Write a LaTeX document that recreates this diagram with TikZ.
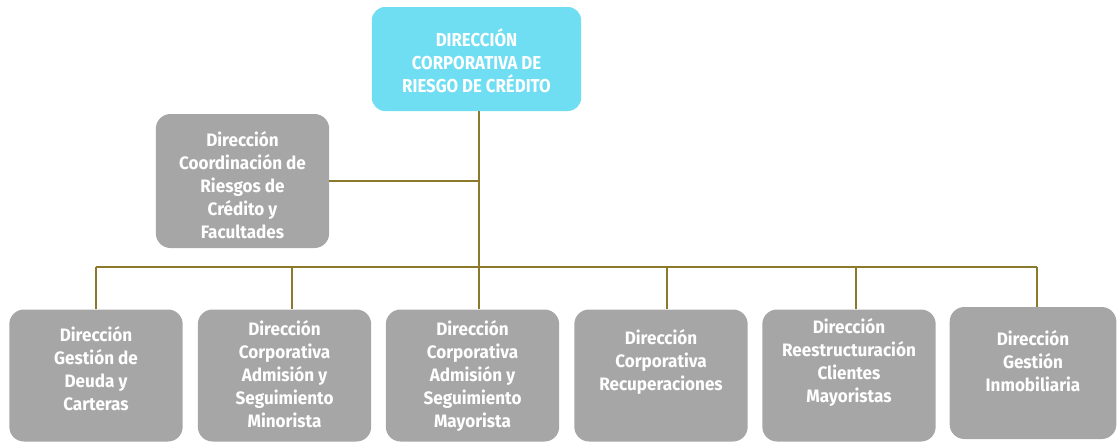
\documentclass[tikz,border=0pt]{standalone}
\usepackage{fontspec}
\setmainfont{Fira Sans}[FakeStretch=0.95]
\usepackage{xcolor}
\usepackage{tikz}
\usetikzlibrary{calc}

\definecolor{headcyan}{HTML}{6FDEF3}
\definecolor{boxgray}{HTML}{A6A6A6}
\definecolor{linkolive}{HTML}{8C7A2C}

\tikzset{
    unit box/.style={fill=boxgray, rounded corners=11pt, minimum width=130pt, minimum height=99pt, inner sep=0pt},
    head box/.style={fill=headcyan, rounded corners=10pt, minimum width=157pt, minimum height=78pt, inner sep=0pt},
    unit text/.style={text=white, align=center, font=\fontsize{13.5}{17.25}\selectfont\bfseries},
    head text/.style={text=white, align=center, font=\addfontfeature{FakeStretch=0.9}\fontsize{14}{17.25}\selectfont\bfseries},
    link/.style={draw=linkolive, line width=1.9pt}
}

\begin{document}
\begin{tikzpicture}[x=0.75pt, y=-0.75pt]
    \useasboundingbox (0, 0) rectangle (1119, 443);

    % cabecera
    \node [head box] (head) at (476.5, 59) {};
    \node [head text] (headt) at ([yshift=-1.5pt]head.center) {DIRECCIÓN\\CORPORATIVA DE\\RIESGO DE CRÉDITO};

    % staff
    \node [unit box, minimum height=100.5pt] (coord) at (242.5, 181) {};
    \node [unit text] (coordt) at ([yshift=-3pt]coord.center) {Dirección\\Coordinación de\\Riesgos de\\Crédito y\\Facultades};

    % direcciones
    \node [unit box] (b1) at (96, 375.5) {};
    \node [unit box] (b2) at (284.5, 375.5) {};
    \node [unit box] (b3) at (472.5, 375.5) {};
    \node [unit box] (b4) at (661, 375.5) {};
    \node [unit box] (b5) at (849, 375.5) {};
    \node [unit box, minimum width=125pt] (b6) at (1033, 373) {};

    \node [unit text] (t1) at ([yshift=5pt]b1.center) {Dirección\\Gestión de\\Deuda y\\Carteras};
    \node [unit text] (t2) at ([yshift=1pt]b2.center) {Dirección\\Corporativa\\Admisión y\\Seguimiento\\Minorista};
    \node [unit text] (t3) at (b3.center) {Dirección\\Corporativa\\Admisión y\\Seguimiento\\Mayorista};
    \node [unit text] (t4) at ([yshift=10pt]b4.center) {Dirección\\Corporativa\\Recuperaciones};
    \node [unit text] (t5) at ([yshift=10pt]b5.center) {Dirección\\Reestructuración\\Clientes\\Mayoristas};
    \node [unit text] (t6) at ([yshift=9pt]b6.center) {Dirección\\Gestión\\Inmobiliaria};

    % conectores
    \coordinate (trunk) at (479, 0);
    \draw [link] (head.south -| trunk) -- (b3.north -| trunk);
    \draw [link] (coord.east) -- (coord.east -| trunk);
    \draw [link] (96, 267) -- (1037, 267);
    \foreach \b/\x in {b1/96, b2/292, b4/667, b5/856, b6/1037}
        \draw [link] (\x, 267) -- (\b.north -| \x, 0);

\end{tikzpicture}
\end{document}
